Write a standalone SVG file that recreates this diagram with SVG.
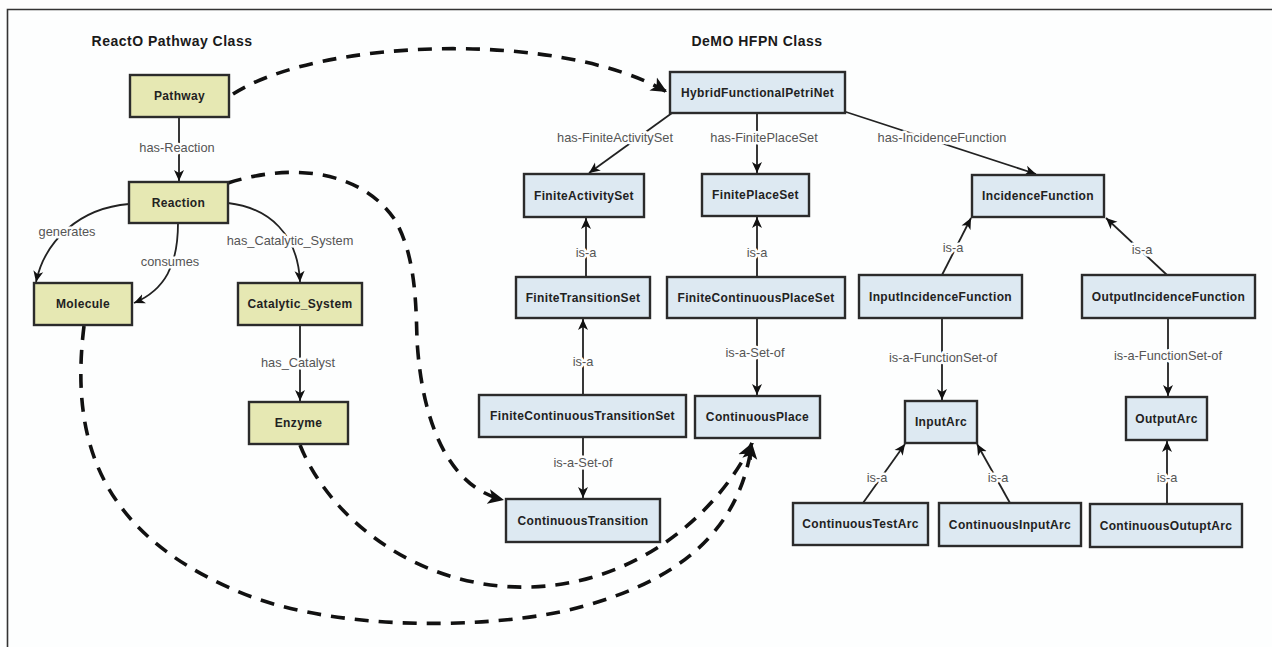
<svg xmlns="http://www.w3.org/2000/svg" width="1272" height="647" viewBox="0 0 1272 647">
  <style>
    .frame { stroke: #333; stroke-width: 1.6; fill: none; }
    .title { font-family: "Liberation Sans", Arial, sans-serif; font-weight: bold; font-size: 14px; letter-spacing: 0.5px; fill: #1a1a1a; text-anchor: middle; }
    .react rect { fill: #e6e8b3; stroke: #2b2b2b; stroke-width: 2.4; }
    .hfpn rect { fill: #dde9f2; stroke: #2b2b2b; stroke-width: 2.4; }
    .node text { font-family: "Liberation Sans", Arial, sans-serif; font-weight: bold; font-size: 12px; letter-spacing: 0.35px; fill: #222; text-anchor: middle; }
    .edge { fill: none; stroke: #222; stroke-width: 1.8; marker-end: url(#arrow); }
    .link { fill: none; stroke: #111; stroke-width: 3.6; stroke-dasharray: 14 10; marker-end: url(#bigArrow); }
    .lbl { font-family: "Liberation Sans", Arial, sans-serif; font-size: 12.8px; fill: #555; text-anchor: middle; stroke: #fdfefe; stroke-width: 5; paint-order: stroke; stroke-linejoin: round; }
  </style>
  <defs>
    <marker id="arrow" markerUnits="userSpaceOnUse" markerWidth="12" markerHeight="12" viewBox="0 0 12 12" refX="11" refY="6" orient="auto">
      <path d="M0,1 L11,6 L0,11 L3,6 z" fill="#111"/>
    </marker>
    <marker id="bigArrow" markerUnits="userSpaceOnUse" markerWidth="18" markerHeight="18" viewBox="0 0 18 18" refX="16" refY="9" orient="auto">
      <path d="M0,1.5 L16,9 L0,16.5 L4,9 z" fill="#111"/>
    </marker>
  </defs>

  <rect width="1272" height="647" fill="#fdfefe"/>
  <path class="frame" d="M7.5,647 L7.5,9.5 L1272,9.5"/>

  <text class="title" x="172" y="46">ReactO Pathway Class</text>
  <text class="title" x="757" y="46">DeMO HFPN Class</text>

  <!-- connectors -->
  <g id="connectors">
    <!-- dashed mappings between the two ontologies -->
    <path class="link" d="M233,94 C 320,38 560,30 667,92"/>
    <path class="link" d="M228,183 C 300,160 365,175 395,220 C 415,255 416,300 417,340 C 422,425 450,488 504,500"/>
    <path class="link" d="M84,326 C 70,440 100,530 230,588 C 320,630 470,630 560,612 C 680,585 740,530 752,443"/>
    <path class="link" d="M300,445 C 330,520 420,590 530,587 C 640,584 720,510 752,443"/>

    <!-- ReactO relations -->
    <path class="edge" d="M179,117 L179,181"/>
    <text class="lbl" x="177" y="152">has-Reaction</text>
    <path class="edge" d="M129,204 C 80,208 45,240 36,282"/>
    <text class="lbl" x="67" y="236">generates</text>
    <path class="edge" d="M178,223 C 178,265 165,290 134,303"/>
    <text class="lbl" x="170" y="266">consumes</text>
    <path class="edge" d="M228,203 C 270,208 298,235 300,282"/>
    <text class="lbl" x="290" y="245">has_Catalytic_System</text>
    <path class="edge" d="M300,325 L300,401"/>
    <text class="lbl" x="298" y="367">has_Catalyst</text>

    <!-- HFPN relations -->
    <path class="edge" d="M672,113 L589,173"/>
    <text class="lbl" x="615" y="142">has-FiniteActivitySet</text>
    <path class="edge" d="M757,113 L757,173"/>
    <text class="lbl" x="764" y="142">has-FinitePlaceSet</text>
    <path class="edge" d="M843,111 L1036,174"/>
    <text class="lbl" x="942" y="142">has-IncidenceFunction</text>
    <path class="edge" d="M586,277 L586,218"/>
    <text class="lbl" x="586" y="257">is-a</text>
    <path class="edge" d="M757,277 L757,217"/>
    <text class="lbl" x="757" y="257">is-a</text>
    <path class="edge" d="M583,395 L583,319"/>
    <text class="lbl" x="583" y="366">is-a</text>
    <path class="edge" d="M757,318 L757,395"/>
    <text class="lbl" x="755" y="357">is-a-Set-of</text>
    <path class="edge" d="M583,437 L583,498"/>
    <text class="lbl" x="583" y="467">is-a-Set-of</text>
    <path class="edge" d="M942,275 L971,218"/>
    <text class="lbl" x="953" y="252">is-a</text>
    <path class="edge" d="M1167,275 L1106,218"/>
    <text class="lbl" x="1142" y="254">is-a</text>
    <path class="edge" d="M942,318 L942,400"/>
    <text class="lbl" x="943" y="362">is-a-FunctionSet-of</text>
    <path class="edge" d="M1168,318 L1168,396"/>
    <text class="lbl" x="1168" y="360">is-a-FunctionSet-of</text>
    <path class="edge" d="M863,503 L905,444"/>
    <text class="lbl" x="877" y="482">is-a</text>
    <path class="edge" d="M1010,503 L977,444"/>
    <text class="lbl" x="998" y="482">is-a</text>
    <path class="edge" d="M1167,504 L1167,441"/>
    <text class="lbl" x="1167" y="482">is-a</text>
  </g>

  <!-- ReactO pathway classes -->
  <g id="pathway" class="node react"><rect x="130" y="75" width="99" height="42"/><text x="179.5" y="100">Pathway</text></g>
  <g id="reaction" class="node react"><rect x="129" y="182" width="99" height="41"/><text x="178.5" y="206.5">Reaction</text></g>
  <g id="molecule" class="node react"><rect x="34" y="283" width="98" height="42"/><text x="83" y="308">Molecule</text></g>
  <g id="catalytic-system" class="node react"><rect x="238" y="283" width="124" height="42"/><text x="300" y="308">Catalytic_System</text></g>
  <g id="enzyme" class="node react"><rect x="249" y="402" width="99" height="42"/><text x="298.5" y="427">Enzyme</text></g>

  <!-- HFPN classes -->
  <g id="hfpn" class="node hfpn"><rect x="670" y="72" width="175" height="41"/><text x="757.5" y="96.5">HybridFunctionalPetriNet</text></g>
  <g id="finite-activity-set" class="node hfpn"><rect x="524" y="174" width="120" height="43"/><text x="584" y="199.5">FiniteActivitySet</text></g>
  <g id="finite-place-set" class="node hfpn"><rect x="702" y="174" width="107" height="42"/><text x="755.5" y="199">FinitePlaceSet</text></g>
  <g id="finite-transition-set" class="node hfpn"><rect x="516" y="277" width="134" height="41"/><text x="583" y="301.5">FiniteTransitionSet</text></g>
  <g id="finite-continuous-place-set" class="node hfpn"><rect x="667" y="277" width="178" height="41"/><text x="756" y="301.5">FiniteContinuousPlaceSet</text></g>
  <g id="finite-continuous-transition-set" class="node hfpn"><rect x="479" y="395" width="207" height="42"/><text x="582.5" y="420">FiniteContinuousTransitionSet</text></g>
  <g id="continuous-place" class="node hfpn"><rect x="695" y="396" width="125" height="42"/><text x="757.5" y="421">ContinuousPlace</text></g>
  <g id="continuous-transition" class="node hfpn"><rect x="506" y="499" width="154" height="43"/><text x="583" y="524.5">ContinuousTransition</text></g>
  <g id="incidence-function" class="node hfpn"><rect x="972" y="175" width="132" height="42"/><text x="1038" y="200">IncidenceFunction</text></g>
  <g id="input-incidence-function" class="node hfpn"><rect x="859" y="275" width="163" height="43"/><text x="940.5" y="300.5">InputIncidenceFunction</text></g>
  <g id="output-incidence-function" class="node hfpn"><rect x="1082" y="275" width="173" height="43"/><text x="1168.5" y="300.5">OutputIncidenceFunction</text></g>
  <g id="input-arc" class="node hfpn"><rect x="905" y="401" width="72" height="42"/><text x="941" y="426">InputArc</text></g>
  <g id="output-arc" class="node hfpn"><rect x="1126" y="397" width="81" height="43"/><text x="1166.5" y="422.5">OutputArc</text></g>
  <g id="continuous-test-arc" class="node hfpn"><rect x="793" y="503" width="135" height="42"/><text x="860.5" y="528">ContinuousTestArc</text></g>
  <g id="continuous-input-arc" class="node hfpn"><rect x="939" y="503" width="142" height="43"/><text x="1010" y="528.5">ContinuousInputArc</text></g>
  <g id="continuous-outupt-arc" class="node hfpn"><rect x="1090" y="504" width="152" height="43"/><text x="1166" y="529.5">ContinuousOutuptArc</text></g>
</svg>
